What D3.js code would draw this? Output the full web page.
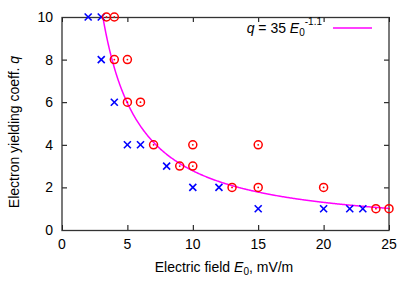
<!DOCTYPE html>
<html><head><meta charset="utf-8">
<script src="https://cdn.jsdelivr.net/npm/d3@7"></script>
<style>body{margin:0;background:#fff}svg{font-family:"Liberation Sans",Arial,sans-serif}</style>
</head><body><svg id="c" width="415" height="291"></svg>
<script>
const crossX = [2,3,3,4,5,6,8,10,12,15,20,22,23];
const crossY = [10,10,8,6,4,4,3,2,2,1,1,1,1];
const circX = [3.4,4,4,5,5,6,7,10,15,9,10,13,15,20,24,25];
const circY = [10,10,8,8,6,6,4,4,4,3,3,2,2,2,1,1];
const fitA = 35, fitB = -1.1;
const xTicks = [0,5,10,15,20,25];
const yTicks = [0,2,4,6,8,10];

const svg = d3.select("#c");
const L=62,R=389,T=17,B=230;
const FS=14;
const x = d3.scaleLinear().domain([0,25]).range([L,R]);
const y = d3.scaleLinear().domain([0,10]).range([B,T]);

svg.append("defs").append("clipPath").attr("id","clip")
  .append("rect").attr("x",L).attr("y",T).attr("width",R-L).attr("height",B-T);

// ticks (inward, mirrored)
const tk = svg.append("g").attr("stroke","#000").attr("stroke-width",1);
xTicks.forEach(v=>{
  tk.append("line").attr("x1",x(v)+0.5).attr("x2",x(v)+0.5).attr("y1",B).attr("y2",B-5);
  tk.append("line").attr("x1",x(v)+0.5).attr("x2",x(v)+0.5).attr("y1",T).attr("y2",T+5);
});
yTicks.forEach(v=>{
  tk.append("line").attr("x1",L).attr("x2",L+5).attr("y1",y(v)+0.5).attr("y2",y(v)+0.5);
  tk.append("line").attr("x1",R).attr("x2",R-5).attr("y1",y(v)+0.5).attr("y2",y(v)+0.5);
});

// border
svg.append("rect").attr("x",L).attr("y",T+0.5).attr("width",R-L).attr("height",B-T)
  .attr("fill","none").attr("stroke","#333").attr("stroke-width",1.3);

// tick labels
svg.append("g").selectAll("text").data(xTicks).join("text")
  .attr("x",d=>x(d)).attr("y",B+19).attr("text-anchor","middle")
  .attr("font-size",FS).text(d=>d);
svg.append("g").selectAll("text").data(yTicks).join("text")
  .attr("x",L-9).attr("y",d=>y(d)+5).attr("text-anchor","end")
  .attr("font-size",FS).text(d=>d);

// axis labels
const xl = svg.append("text").attr("x",224).attr("y",272).attr("text-anchor","middle").attr("font-size",FS);
xl.append("tspan").text("Electric field ");
xl.append("tspan").attr("font-style","italic").text("E");
xl.append("tspan").attr("font-size",10).attr("dy",3).text("0");
xl.append("tspan").attr("dy",-3).text(", mV/m");

const yl = svg.append("text").attr("transform","translate(19,132) rotate(-90)").attr("text-anchor","middle").attr("font-size",FS);
yl.append("tspan").text("Electron yielding coeff. ");
yl.append("tspan").attr("font-style","italic").text("q");

// fit curve
const fx = d3.range(3.0,25.001,0.05);
svg.append("path").attr("clip-path","url(#clip)")
  .datum(fx).attr("fill","none").attr("stroke","#ff00ff").attr("stroke-width",1.5)
  .attr("d",d3.line().x(d=>x(d)).y(d=>y(fitA*Math.pow(d,fitB))));

// crosses
const cr = svg.append("g").attr("stroke","#0000ff").attr("stroke-width",1.6);
crossX.forEach((v,i)=>{
  const cx=x(v), cy=y(crossY[i]), s=3.5;
  cr.append("line").attr("x1",cx-s).attr("y1",cy-s).attr("x2",cx+s).attr("y2",cy+s);
  cr.append("line").attr("x1",cx-s).attr("y1",cy+s).attr("x2",cx+s).attr("y2",cy-s);
});

// circles with dot
const cc = svg.append("g");
circX.forEach((v,i)=>{
  cc.append("circle").attr("cx",x(v)).attr("cy",y(circY[i])).attr("r",4)
    .attr("fill","none").attr("stroke","#ff0000").attr("stroke-width",1.5);
  cc.append("circle").attr("cx",x(v)).attr("cy",y(circY[i])).attr("r",0.9).attr("fill","#ff0000");
});

// legend
const lg = svg.append("text").attr("x",322).attr("y",33).attr("text-anchor","end").attr("font-size",FS);
lg.append("tspan").attr("font-style","italic").text("q");
lg.append("tspan").text(" = 35 ");
lg.append("tspan").attr("font-style","italic").text("E");
lg.append("tspan").attr("font-size",10).attr("dy",3).text("0");
lg.append("tspan").attr("font-size",10).attr("dy",-11).text("-1.1");
svg.append("line").attr("x1",333).attr("x2",372).attr("y1",28).attr("y2",28)
  .attr("stroke","#ff00ff").attr("stroke-width",1.5);
</script></body></html>
